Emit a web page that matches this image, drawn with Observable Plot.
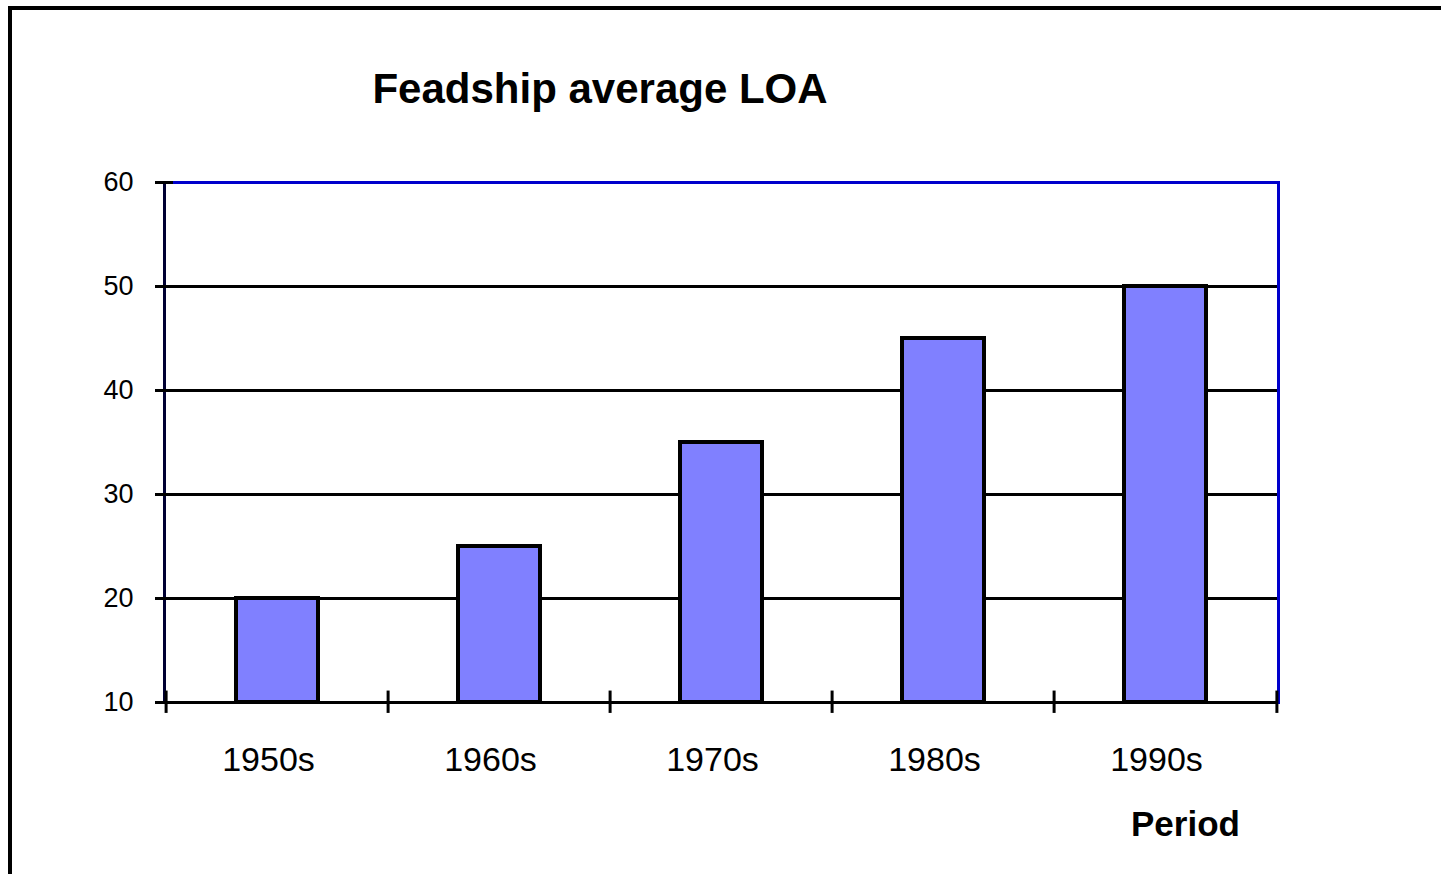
<!DOCTYPE html>
<html>
<head>
<meta charset="utf-8">
<script src="https://cdn.jsdelivr.net/npm/d3@7"></script>
<script src="https://cdn.jsdelivr.net/npm/@observablehq/plot@0.6"></script>
<style>
  html, body { margin: 0; padding: 0; background: #fff; overflow: hidden; }
  #wrap { position: relative; width: 1441px; height: 874px; overflow: hidden; font-family: "Liberation Sans", Arial, sans-serif; }
  #frame { position: absolute; left: 8px; top: 6px; width: 1500px; height: 1000px; border: 4px solid #000; box-sizing: border-box; }
  #title { position: absolute; left: 0; width: 1200px; top: 65px; text-align: center; font-weight: bold; font-size: 42px; line-height: 48px; color: #000; }
  #xlabel { position: absolute; left: 1131px; top: 803px; font-weight: bold; font-size: 35px; line-height: 42px; color: #000; }
  #chart { position: absolute; left: 0; top: 0; }
</style>
</head>
<body>
<div id="wrap">
  <div id="frame"></div>
  <div id="chart"></div>
  <div id="title">Feadship average LOA</div>
  <div id="xlabel">Period</div>
</div>
<script>
const periods = ["1950s", "1960s", "1970s", "1980s", "1990s"];
const loa = [20, 25, 35, 45, 50];
const yTicks = [10, 20, 30, 40, 50, 60];
const gridValues = [20, 30, 40, 50];

const data = periods.map((p, i) => ({period: p, value: loa[i]}));
const plotW = 1278 - 164;
const step = plotW / periods.length;

const chart = Plot.plot({
  width: 1441,
  height: 874,
  marginLeft: 164,
  marginRight: 163,
  marginTop: 182,
  marginBottom: 172,
  style: {fontFamily: "'Liberation Sans', Arial, sans-serif", background: "transparent", color: "#000"},
  x: {domain: periods, paddingInner: 0.632, paddingOuter: 0.316, label: null},
  y: {domain: [10, 60], label: null},
  marks: [
    Plot.ruleY(gridValues, {stroke: "#000", strokeWidth: 3}),
    Plot.barY(data, {x: "period", y1: 10, y2: "value", fill: "#8080FF", stroke: "#000", strokeWidth: 4}),
    Plot.ruleY([60], {stroke: "#0000CC", strokeWidth: 3}),
    Plot.frame({anchor: "right", stroke: "#0000CC", strokeWidth: 3}),
    Plot.frame({anchor: "left", stroke: "#000033", strokeWidth: 3}),
    Plot.ruleY([10], {stroke: "#000", strokeWidth: 3}),
    // category boundary ticks on x axis
    Plot.ruleX(periods, {x: d => d, dx: -step / 2, y1: 8.95, y2: 11.1, stroke: "#000", strokeWidth: 3}),
    Plot.ruleX([periods[periods.length - 1]], {x: d => d, dx: step / 2, y1: 8.95, y2: 11.1, stroke: "#000", strokeWidth: 3}),
    // y ticks crossing the axis
    Plot.tickY(yTicks, {y: d => d, stroke: "#000", strokeWidth: 3, insetLeft: -9, insetRight: plotW - 9}),
    Plot.axisY({ticks: yTicks, tickSize: 0, tickPadding: 31, fontSize: 27, tickFormat: d => d}),
    Plot.axisX({tickSize: 0, tickPadding: 44, fontSize: 34, dx: -9})
  ]
});
document.getElementById("chart").appendChild(chart);
</script>
</body>
</html>
